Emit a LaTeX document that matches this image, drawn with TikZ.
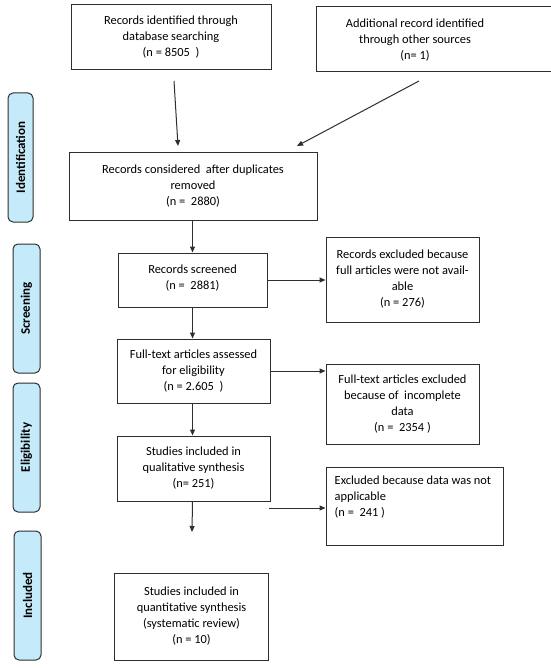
\documentclass[tikz,border=0pt]{standalone}
\usepackage{fontspec}
\setmainfont{Carlito}
\usetikzlibrary{arrows.meta}
\definecolor{sidefill}{HTML}{C5EBFA}
\definecolor{linecol}{HTML}{2E2E2E}
\tikzset{
  box/.style={draw=linecol, line width=1pt, rectangle, align=center, inner sep=2pt,
    font=\fontsize{12.4}{16}\selectfont},
  txt/.style={align=center, inner sep=0pt, font=\fontsize{12.4}{16}\selectfont},
  side/.style={draw=linecol, line width=1pt, rounded corners=5pt, fill=sidefill,
    minimum width=#1, rotate=90, font=\fontsize{13}{15}\selectfont\bfseries, inner sep=0pt},
  conn/.style={draw=linecol, line width=1pt, -{Triangle[length=6pt,width=5pt]}},
}
\begin{document}
\begin{tikzpicture}[x=1pt,y=-1pt]
\useasboundingbox (0,0) rectangle (550,668);

% side labels
\node[side=129pt, minimum height=25pt] (sid) at (20.5,157.5) {Identification};
\node[side=129pt, minimum height=27pt] (sscr) at (26.5,308.5) {Screening};
\node[side=129pt, minimum height=27pt] (selig) at (26.5,447.5) {Eligibility};
\node[side=129pt, minimum height=27pt] (sinc) at (27.5,595.5) {Included};

% boxes
\node[box, minimum width=200pt, minimum height=65pt] (b1) at (171,37.5)
  {Records identified through\\database searching\\(n = 8505~~)};
\node[box, minimum width=299pt, minimum height=65pt] (b2) at (465.5,39.5) {};
\node[txt] (b2t) at (415,40)
  {Additional record identified\\through other sources\\(n= 1)};
\node[box, minimum width=248pt, minimum height=67pt] (b3) at (193,186.5)
  {Records considered ~after duplicates\\removed\\(n = ~2880)};
\node[box, minimum width=149pt, minimum height=54pt, text depth=5pt] (b4) at (192.5,280)
  {Records screened\\(n = ~2881)};
\node[box, minimum width=153pt, minimum height=85pt] (b5) at (402.5,279.5)
  {Records excluded because\\full articles were not avail-\\able\\(n = 276)};
\node[box, minimum width=153pt, minimum height=64pt] (b6) at (193.5,371)
  {Full-text articles assessed\\for eligibility\\(n = 2.605~~)};
\node[box, minimum width=153pt, minimum height=80pt] (b7) at (402.5,404)
  {Full-text articles excluded\\because of ~incomplete\\data\\(n = ~2354 )};
\node[box, minimum width=153pt, minimum height=65pt] (b8) at (193.5,468.5)
  {Studies included in\\qualitative synthesis\\(n= 251)};
\node[box, minimum width=177pt, minimum height=78pt] (b9) at (414.5,506) {};
\node[anchor=north west, align=left, inner sep=0pt, font=\fontsize{12.4}{16}\selectfont] (b9t)
  at ([xshift=9pt,yshift=-9pt]b9.north west)
  {Excluded because data was not\\applicable\\(n = ~241 )};
\node[box, minimum width=154pt, minimum height=87pt] (b10) at (191.5,616.5)
  {Studies included in\\quantitative synthesis\\(systematic review)\\(n = 10)};

% free ends
\coordinate (a1s) at (174,81);
\coordinate (a1e) at (178,146);
\coordinate (a2s) at (419,81);
\coordinate (a2e) at (297,146);
\coordinate (a8e) at (192,532);
\coordinate (a9s) at (269,508);

% connectors
\draw[conn] (a1s) -- (a1e);
\draw[conn] (a2s) -- (a2e);
\draw[conn] (b4.north |- b3.south) -- (b4.north);
\draw[conn] (b4.east) -- (b5.west |- b4.east);
\draw[conn] (b4.south) -- (b4.south |- b6.north);
\draw[conn] (b6.east) -- (b7.west |- b6.east);
\draw[conn] (b4.south |- b6.south) -- (b4.south |- b8.north);
\draw[conn] (b4.south |- b8.south) -- (a8e);
\draw[conn] (a9s) -- (b9.west |- a9s);
\end{tikzpicture}
\end{document}
